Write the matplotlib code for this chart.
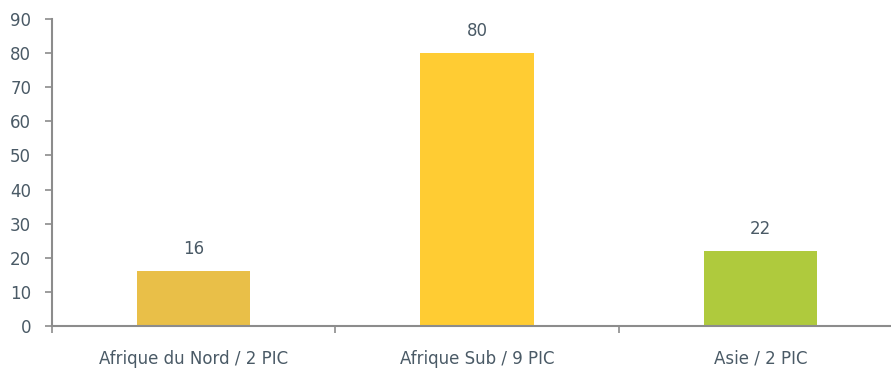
import numpy as np
import matplotlib.pyplot as plt

regions = ["Afrique du Nord / 2 PIC", "Afrique Sub / 9 PIC", "Asie / 2 PIC"]
values = [16, 80, 22]
bar_colors = ["#E9BF48", "#FFCC33", "#AFCA3D"]

text_color = "#4A5A66"
axis_color = "#8C8C8C"

plt.rcParams['font.family'] = ['DejaVu Sans']

fig = plt.figure(figsize=(8.91, 3.69), dpi=100)
# axis runs a bit past the right edge of the figure
ax = fig.add_axes([52 / 891, 43 / 369, 850 / 891, 307 / 369])

x = np.arange(len(values))
bars = ax.bar(x, values, width=0.4, color=bar_colors, zorder=2)

for xi, v in zip(x, values):
    ax.text(xi, v + 3.8, str(v), ha='center', va='bottom',
            fontsize=12, color=text_color)

ax.set_xlim(-0.5, len(values) - 0.5)
ax.set_ylim(0, 90)
ax.set_yticks(range(0, 91, 10))

# category labels sit between the boundary ticks
ax.set_xticks(np.arange(len(values) + 1) - 0.5)
ax.set_xticklabels([])
ax.set_xticks(x, minor=True)
ax.set_xticklabels(regions, minor=True)
ax.tick_params(axis='x', which='minor', length=0, pad=17,
               labelsize=12, labelcolor=text_color)
ax.tick_params(axis='x', which='major', length=5, width=1.2,
               color=axis_color, direction='out')
ax.tick_params(axis='y', length=5, width=1.2, color=axis_color,
               labelsize=12, labelcolor=text_color, pad=10)

for side in ['top', 'right']:
    ax.spines[side].set_visible(False)
for side in ['left', 'bottom']:
    ax.spines[side].set_color(axis_color)
    ax.spines[side].set_linewidth(1.5)

fig.savefig("out.png", dpi=100)
